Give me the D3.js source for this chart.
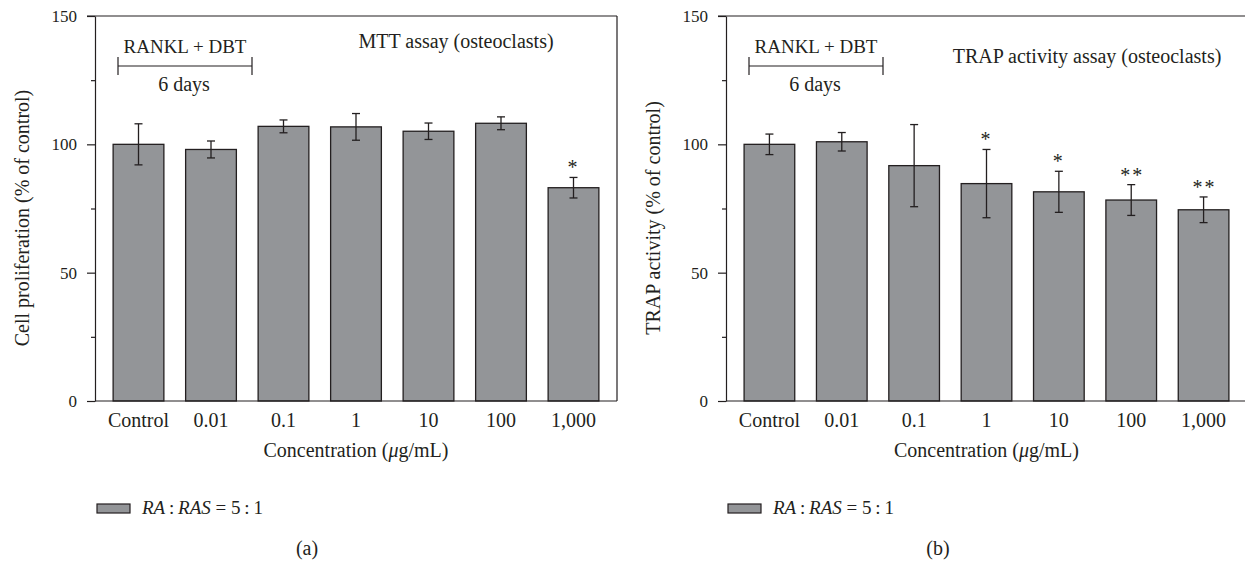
<!DOCTYPE html>
<html>
<head>
<meta charset="utf-8">
<script src="https://cdn.jsdelivr.net/npm/d3@7"></script>
<style>
  body { margin: 0; background: #fff; }
  svg { display: block; font-family: "Liberation Serif", "Times New Roman", serif; }
  text { fill: #231f20; }
</style>
</head>
<body>
<div class="container"></div>
<script>
// data
const concentrations = ["Control", "0.01", "0.1", "1", "10", "100", "1,000"];
const mttMean = [100, 98, 107, 106.8, 105.1, 108.2, 83.1];
const mttErr = [8, 3.3, 2.5, 5.2, 3.2, 2.5, 4];
const mttSig = ["", "", "", "", "", "", "*"];
const trapMean = [100, 101, 91.7, 84.7, 81.5, 78.3, 74.5];
const trapErr = [4, 3.6, 16, 13.3, 8, 6, 5];
const trapSig = ["", "", "", "*", "*", "**", "**"];
const yTicks = [0, 50, 100, 150];
const yMinorTicks = [25, 75, 125];

const width = 1245;
const height = 562;
const ink = "#231f20";
const barFill = "#939598";

const svg = d3.select(".container").append("svg").attr("width", width).attr("height", height);

const yScale = d3.scaleLinear().domain([0, 150]).range([401, 16]);

function drawPanel(x0, x1, means, errs, sig, yLabel, title, titleY, letter) {
    const xScale = d3.scaleBand()
        .domain(concentrations)
        .range([x0, x1])
        .paddingInner(0.3)
        .paddingOuter(0.25);
    const g = svg.append("g");

    // frame lines (top and right)
    g.append("line").attr("x1", x0 - 8).attr("x2", x1).attr("y1", yScale(150)).attr("y2", yScale(150))
        .attr("stroke", ink).attr("stroke-width", 1.2);
    g.append("line").attr("x1", x1).attr("x2", x1).attr("y1", yScale(150)).attr("y2", yScale(0))
        .attr("stroke", ink).attr("stroke-width", 1.2);

    // bars
    g.selectAll("rect.bar")
        .data(means)
        .enter()
        .append("rect")
        .attr("class", "bar")
        .attr("x", (d, i) => xScale(concentrations[i]))
        .attr("y", (d) => yScale(d))
        .attr("width", xScale.bandwidth())
        .attr("height", (d) => yScale(0) - yScale(d))
        .attr("fill", barFill)
        .attr("stroke", ink)
        .attr("stroke-width", 1.3);

    // error bars
    const cx = (i) => xScale(concentrations[i]) + xScale.bandwidth() / 2;
    const eb = g.selectAll("g.err").data(means).enter().append("g").attr("class", "err")
        .attr("stroke", ink).attr("stroke-width", 1.3);
    eb.append("line").attr("x1", (d, i) => cx(i)).attr("x2", (d, i) => cx(i))
        .attr("y1", (d, i) => yScale(d + errs[i])).attr("y2", (d, i) => yScale(d - errs[i]));
    eb.append("line").attr("x1", (d, i) => cx(i) - 4).attr("x2", (d, i) => cx(i) + 4)
        .attr("y1", (d, i) => yScale(d + errs[i])).attr("y2", (d, i) => yScale(d + errs[i]));
    eb.append("line").attr("x1", (d, i) => cx(i) - 4).attr("x2", (d, i) => cx(i) + 4)
        .attr("y1", (d, i) => yScale(d - errs[i])).attr("y2", (d, i) => yScale(d - errs[i]));

    // significance stars
    g.selectAll("text.sig").data(means).enter().append("text").attr("class", "sig")
        .attr("x", (d, i) => cx(i) + (sig[i].length > 1 ? 1 : 0))
        .attr("y", (d, i) => yScale(d + errs[i]) - 3)
        .attr("text-anchor", "middle")
        .style("font-size", "20px")
        .style("letter-spacing", "2px")
        .text((d, i) => sig[i]);

    // axes
    const yAxis = d3.axisLeft(yScale).tickValues(yTicks).tickSize(8).tickSizeOuter(0).tickPadding(10);
    const ya = g.append("g").attr("transform", `translate(${x0},0)`).call(yAxis);
    ya.selectAll("text").style("font-size", "17px");
    const yMinor = d3.axisLeft(yScale).tickValues(yMinorTicks).tickSize(4).tickSizeOuter(0).tickFormat("");
    const ym = g.append("g").attr("transform", `translate(${x0},0)`).call(yMinor);
    ym.select(".domain").remove();

    const xAxis = d3.axisBottom(xScale).tickSize(0).tickSizeOuter(0).tickPadding(12);
    const xa = g.append("g").attr("transform", `translate(0,${yScale(0)})`).call(xAxis);
    xa.selectAll("text").style("font-size", "20px");
    xa.select(".domain").attr("d", `M${x0},0H${x1}`);

    [ya, ym, xa].forEach((a) => {
        a.attr("font-family", null).attr("font-size", null);
        a.selectAll("text").attr("fill", ink);
        a.selectAll("path, line").attr("stroke", ink).attr("stroke-width", 1.2);
    });

    // axis titles
    g.append("text")
        .attr("transform", `translate(${x0 - 66},218) rotate(-90)`)
        .attr("text-anchor", "middle")
        .style("font-size", "20px")
        .text(yLabel);
    const xl = g.append("text")
        .attr("x", (x0 + x1) / 2)
        .attr("y", 457)
        .attr("text-anchor", "middle")
        .style("font-size", "20px");
    xl.append("tspan").text("Concentration (");
    xl.append("tspan").style("font-style", "italic").text("\u03bc");
    xl.append("tspan").text("g/mL)");

    // treatment annotation
    g.append("text").attr("x", x0 + 90).attr("y", 53).attr("text-anchor", "middle")
        .style("font-size", "19px").text("RANKL + DBT");
    const br = g.append("g").attr("stroke", ink).attr("stroke-width", 1.2);
    br.append("line").attr("x1", x0 + 23).attr("x2", x0 + 157).attr("y1", 66).attr("y2", 66);
    br.append("line").attr("x1", x0 + 23).attr("x2", x0 + 23).attr("y1", 57).attr("y2", 75);
    br.append("line").attr("x1", x0 + 157).attr("x2", x0 + 157).attr("y1", 57).attr("y2", 75);
    g.append("text").attr("x", x0 + 89).attr("y", 91).attr("text-anchor", "middle")
        .style("font-size", "20px").text("6 days");

    g.append("text").attr("x", x0 + 361).attr("y", titleY).attr("text-anchor", "middle")
        .style("font-size", "20px").text(title);

    // legend
    g.append("rect").attr("x", x0 + 2).attr("y", 504).attr("width", 33).attr("height", 9)
        .attr("fill", barFill).attr("stroke", ink).attr("stroke-width", 1.2);
    const lt = g.append("text").attr("x", x0 + 47).attr("y", 514).style("font-size", "19px");
    lt.append("tspan").style("font-style", "italic").text("RA");
    lt.append("tspan").text("\u2009:\u2009");
    lt.append("tspan").style("font-style", "italic").text("RAS");
    lt.append("tspan").text(" = 5\u2009:\u20091");

    g.append("text").attr("x", x0 + 212).attr("y", 555).attr("text-anchor", "middle")
        .style("font-size", "20px").text(letter);
}

drawPanel(95, 617, mttMean, mttErr, mttSig, "Cell proliferation (% of control)", "MTT assay (osteoclasts)", 48, "(a)");
drawPanel(726, 1247, trapMean, trapErr, trapSig, "TRAP activity (% of control)", "TRAP activity assay (osteoclasts)", 63, "(b)");
</script>
</body>
</html>
